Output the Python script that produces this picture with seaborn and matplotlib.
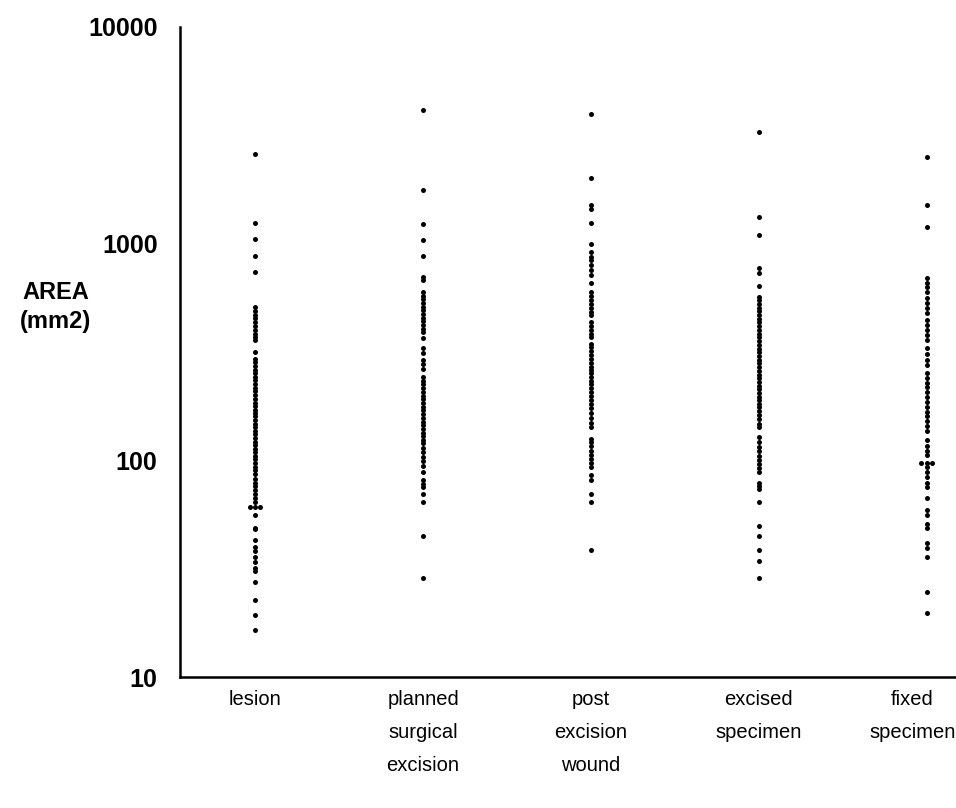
import numpy as np
import pandas as pd
import matplotlib
matplotlib.use("Agg")
import matplotlib.pyplot as plt
import matplotlib.transforms as mtransforms
import seaborn as sns
from matplotlib.ticker import FixedLocator, NullLocator

categories = ["lesion", "planned\nsurgical\nexcision", "post\nexcision\nwound",
              "excised\nspecimen", "fixed\nspecimen"]

lesion = [2590, 1245, 1050, 880, 740,
          509, 490, 470, 452, 435, 418, 400, 385, 370, 359, 316,
          295, 284, 272, 262, 252, 243, 234, 225, 216, 208, 200, 192,
          185, 178, 171, 165, 160, 154, 148, 142, 137, 132, 127, 122, 118, 113,
          109, 105, 101, 97, 93, 90, 87, 82, 79, 76, 73, 70, 67, 64,
          61, 61, 61, 56, 49, 48, 43, 40, 38, 36, 34, 32, 31, 27.5, 22.6, 19.3, 16.5]

planned = [4140, 1766, 1232, 1040, 877, 700, 680,
           598, 575, 553, 532, 512, 493, 474, 456, 439, 422, 406, 391,
           367, 331, 313, 290, 278, 265,
           242, 233, 224, 215, 207, 199, 191, 184, 177, 170, 164, 157, 151, 145,
           140, 134, 129, 124, 120, 114, 109, 104, 99, 94, 88, 81, 78, 75,
           70, 64.5, 44.6, 28.6]

post = [3960, 2010, 1506, 1450, 1245, 994, 915, 868,
        840, 800, 760, 720, 660,
        600, 575, 550, 527, 505, 484, 470,
        436, 418, 400, 385, 370,
        345, 332, 319, 306, 294, 282, 271, 260,
        253, 243, 233, 224, 215, 206, 198, 190, 182, 174,
        165, 157, 149, 142,
        126, 121, 116, 111, 106, 102, 97, 93, 86, 81, 70, 64.5, 38.5]

excised = [3270, 1330, 1100, 770, 730, 640,
           570, 548, 527, 507, 487, 468, 450, 433, 416, 400, 385, 370, 355, 342,
           328, 316, 303, 292, 280, 270, 259, 249, 240, 230, 221, 213, 205, 197, 190,
           183, 176, 169, 162, 155, 148, 142, 128, 122,
           115, 110, 105, 100, 96, 92, 88, 79, 76, 74,
           64.5, 50, 45, 38.5, 34.2, 28.6]

fixed = [2520, 1506, 1200,
         694, 660, 630, 600, 560, 532, 505, 480,
         445, 420, 400, 380, 360, 331, 310, 290, 275,
         253, 240, 228, 217, 206, 196, 186, 177, 168, 160, 152, 144, 137,
         124, 117, 111, 106, 97, 97, 97,
         93, 88, 84, 79, 75, 67, 59, 56, 51, 49, 41.5, 39.5, 36, 24.6, 19.8]

groups = [lesion, planned, post, excised, fixed]
df = pd.DataFrame({
    "stage": np.concatenate([[c] * len(g) for c, g in zip(categories, groups)]),
    "area": np.concatenate(groups),
})
# repeated values within a group are spread side by side (beeswarm),
# everything else sits on the category centre line
dup = df.duplicated(subset=["stage", "area"], keep=False)

yticks = [10, 100, 1000, 10000]
ytick_labels = ["10", "100", "1000", "10000"]

sns.set_style("white")
plt.rcParams["font.family"] = ["DejaVu Sans"]
plt.rcParams["text.color"] = "black"
plt.rcParams["xtick.color"] = "black"
plt.rcParams["ytick.color"] = "black"

fig = plt.figure(figsize=(9.56, 8.08), dpi=100)
ax = fig.add_axes([0.188, 0.162, 0.811, 0.8046])
ax.set_yscale("log")

sns.stripplot(data=df[~dup], x="stage", y="area", order=categories, color="black",
              size=3.6, jitter=False, ax=ax, linewidth=0)
sns.swarmplot(data=df[dup], x="stage", y="area", order=categories, color="black",
              size=3.6, ax=ax, linewidth=0)

ax.set_ylim(10, 10000)
ax.set_xlim(-0.45, 4.17)
ax.yaxis.set_major_locator(FixedLocator(yticks))
ax.yaxis.set_minor_locator(NullLocator())
ax.set_yticklabels(ytick_labels, fontsize=18, fontweight="bold",
                   family=["Liberation Sans", "DejaVu Sans"], color="black")
ax.tick_params(axis="y", direction="out", length=11, width=1.3, color="black", pad=5)
ax.tick_params(axis="x", length=0, pad=9)
ax.set_xticks(range(len(categories)))
ax.set_xticklabels(categories, fontsize=14.5, linespacing=1.95, va="top", color="black",
                   family=["Liberation Sans", "DejaVu Sans"])

# nudge the last label left so it stays inside the figure like the reference
last = ax.get_xticklabels()[-1]
last.set_transform(last.get_transform() +
                   mtransforms.ScaledTranslation(-14 / 100, 0, fig.dpi_scale_trans))

for s in ["top", "right"]:
    ax.spines[s].set_visible(False)
for s in ["left", "bottom"]:
    ax.spines[s].set_linewidth(1.8)
    ax.spines[s].set_color("black")

ax.set_xlabel("")
ax.set_ylabel("")
fig.text(0.058, 0.62, "AREA\n(mm2)", fontsize=17, fontweight="bold", ha="center",
         va="center", linespacing=1.35, family=["Liberation Sans", "DejaVu Sans"])

fig.savefig("out.png", dpi=100)
